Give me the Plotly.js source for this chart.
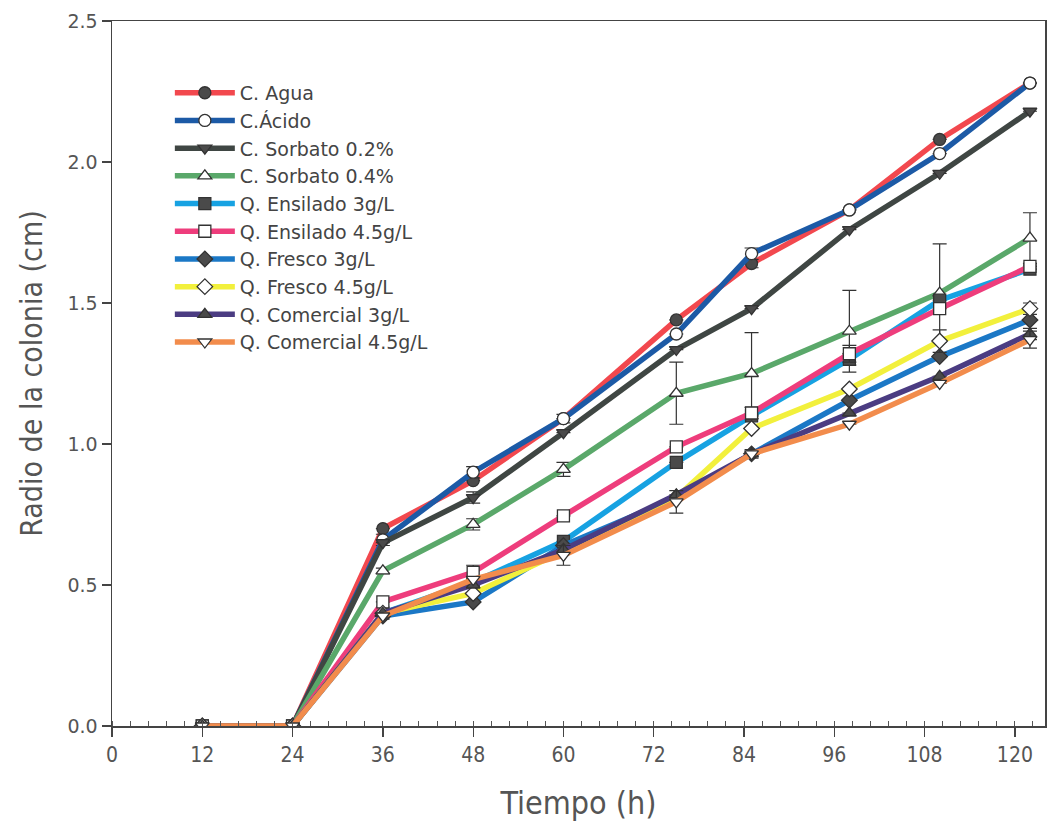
<!DOCTYPE html>
<html>
<head>
<meta charset="utf-8">
<script src="https://cdn.plot.ly/plotly-3.0.1.min.js"></script>
<style>html,body{margin:0;padding:0;background:#fff;}#chart{width:1050px;height:831px;}</style>
</head>
<body>
<div id="chart"></div>
<script>
// Time (h)
const tiempo = [12, 24, 36, 48, 60, 75, 85, 98, 110, 122];

// Series names
const nombres = ["C. Agua", "C.Ácido", "C. Sorbato 0.2%", "C. Sorbato 0.4%", "Q. Ensilado 3g/L",
  "Q. Ensilado 4.5g/L", "Q. Fresco 3g/L", "Q. Fresco 4.5g/L", "Q. Comercial 3g/L", "Q. Comercial 4.5g/L"];

// Colony radius (cm)
const agua     = [0, 0, 0.70, 0.87, 1.09, 1.44, 1.64, 1.83, 2.08, 2.28];
const acido    = [0, 0, 0.66, 0.90, 1.09, 1.39, 1.675, 1.83, 2.03, 2.28];
const sorb02   = [0, 0, 0.65, 0.81, 1.04, 1.335, 1.48, 1.76, 1.96, 2.18];
const sorb04   = [0, 0, 0.55, 0.715, 0.91, 1.18, 1.25, 1.40, 1.535, 1.73];
const ens3     = [0, 0, 0.40, 0.51, 0.655, 0.935, 1.10, 1.30, 1.51, 1.62];
const ens45    = [0, 0, 0.44, 0.545, 0.745, 0.99, 1.11, 1.32, 1.48, 1.63];
const fre3     = [0, 0, 0.39, 0.44, 0.64, 0.81, 0.965, 1.155, 1.31, 1.44];
const fre45    = [0, 0, 0.40, 0.47, 0.62, 0.81, 1.055, 1.195, 1.365, 1.48];
const com3     = [0, 0, 0.40, 0.50, 0.625, 0.82, 0.965, 1.11, 1.24, 1.39];
const com45    = [0, 0, 0.39, 0.52, 0.605, 0.795, 0.965, 1.07, 1.215, 1.37];

// Error (± cm)
const aguaErr   = [0, 0, 0, 0, 0, 0, 0.015, 0, 0, 0];
const acidoErr  = [0, 0, 0.02, 0.02, 0.015, 0, 0.02, 0, 0, 0];
const sorb02Err = [0, 0, 0, 0.02, 0, 0, 0, 0, 0, 0];
const sorb04Err = [0, 0, 0.01, 0.02, 0.025, 0.11, 0.145, 0.145, 0.175, 0.09];
const ens3Err   = [0, 0, 0, 0, 0, 0, 0, 0.02, 0, 0];
const ens45Err  = [0, 0, 0, 0.025, 0, 0, 0.02, 0.03, 0, 0];
const fre3Err   = [0, 0, 0, 0, 0, 0, 0, 0, 0, 0];
const fre45Err  = [0, 0, 0, 0, 0, 0, 0, 0, 0.04, 0.02];
const com3Err   = [0, 0, 0, 0, 0, 0, 0, 0, 0, 0.02];
const com45Err  = [0, 0, 0, 0, 0.035, 0.04, 0.015, 0, 0, 0.03];

const valores = [agua, acido, sorb02, sorb04, ens3, ens45, fre3, fre45, com3, com45];
const errores = [aguaErr, acidoErr, sorb02Err, sorb04Err, ens3Err, ens45Err, fre3Err, fre45Err, com3Err, com45Err];

const colores = ["#f2484e", "#1c5aa6", "#3f4643", "#5aa86a", "#17a2e2", "#ee3d7c", "#1b78c6", "#f2f03c", "#4b3c82", "#f28c4c"];
const simbolos = ["circle", "circle", "triangle-down", "triangle-up", "square", "square", "diamond", "diamond", "triangle-up", "triangle-down"];
const rellenos = ["#4a4a4a", "#ffffff", "#4a4a4a", "#ffffff", "#4a4a4a", "#ffffff", "#4a4a4a", "#ffffff", "#4a4a4a", "#ffffff"];

const traces = nombres.map((n, i) => ({
  type: "scatter",
  mode: "lines+markers",
  name: n,
  x: tiempo,
  y: valores[i],
  line: {color: colores[i], width: 5.5},
  marker: {symbol: simbolos[i], size: 12, color: rellenos[i], line: {color: "#333", width: 1.3}},
  error_y: {type: "data", array: errores[i], visible: true, color: "#333", thickness: 1.2, width: 7}
}));

const condensed = "DejaVu Sans Condensed, Liberation Sans Narrow, Liberation Sans, sans-serif";

const layout = {
  width: 1050, height: 831,
  paper_bgcolor: "#fff", plot_bgcolor: "#fff",
  margin: {l: 112, r: 5, t: 21, b: 105},
  showlegend: true,
  legend: {
    x: 0.062, y: 0.925, xanchor: "left", yanchor: "top",
    bgcolor: "rgba(0,0,0,0)",
    font: {family: "DejaVu Sans, Liberation Sans, sans-serif", size: 19, color: "#444"},
    itemwidth: 60, tracegroupgap: 0
  },
  xaxis: {
    range: [0, 124],
    tickvals: [0, 12, 24, 36, 48, 60, 72, 84, 96, 108, 120],
    ticks: "outside", ticklen: 9, tickwidth: 1.3, tickcolor: "#444",
    minor: {dtick: 2.4, ticks: "inside", ticklen: 5, tickwidth: 1, tickcolor: "#555"},
    showline: true, linecolor: "#444", linewidth: 1.5, mirror: true,
    showgrid: false, zeroline: false,
    tickfont: {family: condensed, size: 21, color: "#555"},
    title: {text: "Tiempo (h)", font: {family: condensed, size: 32, color: "#555"}, standoff: 26}
  },
  yaxis: {
    range: [0, 2.5],
    tickvals: [0, 0.5, 1.0, 1.5, 2.0, 2.5],
    ticktext: ["0.0", "0.5", "1.0", "1.5", "2.0", "2.5"],
    ticks: "outside", ticklen: 9, tickwidth: 1.3, tickcolor: "#444",
    showline: true, linecolor: "#444", linewidth: 1.5, mirror: true,
    showgrid: false, zeroline: false,
    tickfont: {family: "DejaVu Sans, Liberation Sans, sans-serif", size: 19, color: "#555"},
    title: {text: "Radio de la colonia (cm)", font: {family: condensed, size: 30, color: "#555"}, standoff: 16}
  }
};

Plotly.newPlot("chart", traces, layout, {displayModeBar: false, staticPlot: true});
</script>
</body>
</html>
